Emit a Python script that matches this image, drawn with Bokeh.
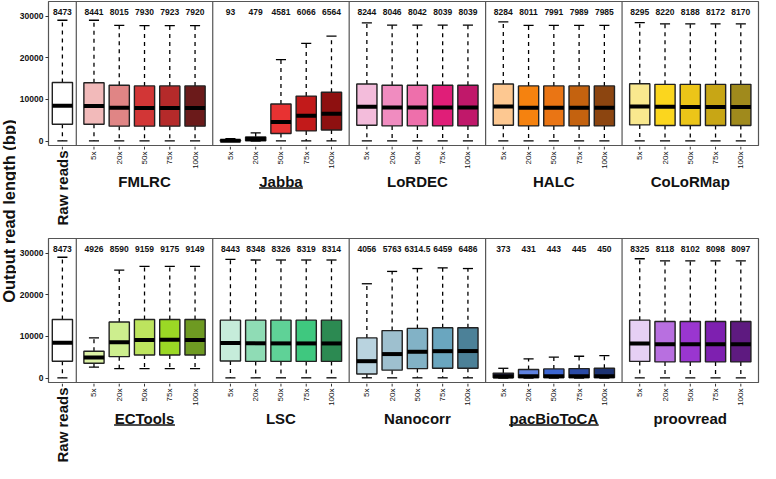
from math import pi
from bokeh.plotting import figure
from bokeh.models import ColumnDataSource, Range1d, FixedTicker, Span
from bokeh.layouts import row, column
from bokeh.embed import file_html
from bokeh.resources import INLINE
from bokeh.core.properties import value

# ---------------- data ----------------
COVERAGES = ["5x", "20x", "50x", "75x", "100x"]
RAW_LABEL = "Raw reads"
Y_LABEL = "Output read length (bp)"
Y_TICKS = [0, 10000, 20000, 30000]

# raw reads: low whisker, q1, median, q3, high whisker
RAW_STATS = [60, 4050, 8473, 14050, 29000]

TOP_TOOLS = ["FMLRC", "Jabba", "LoRDEC", "HALC", "CoLoRMap"]
BOTTOM_TOOLS = ["ECTools", "LSC", "Nanocorr", "pacBioToCA", "proovread"]
UNDERLINED = ["Jabba", "ECTools", "pacBioToCA"]

FMLRC_MED = [8441, 8015, 7930, 7923, 7920]
FMLRC_Q1 = [4040, 3580, 3580, 3580, 3580]
FMLRC_Q3 = [14000, 13400, 13240, 13240, 13240]
FMLRC_LO = [60, 60, 60, 60, 60]
FMLRC_HI = [29000, 27780, 27700, 27700, 27700]

JABBA_MED = [93, 479, 4581, 6066, 6564]
JABBA_Q1 = [20, 90, 1830, 2440, 2670]
JABBA_Q3 = [260, 1000, 8900, 10800, 11710]
JABBA_LO = [0, 0, 60, 60, 60]
JABBA_HI = [560, 1990, 19560, 23450, 25180]

LORDEC_MED = [8244, 8046, 8042, 8039, 8039]
LORDEC_Q1 = [3810, 3650, 3650, 3650, 3650]
LORDEC_Q3 = [13700, 13400, 13400, 13400, 13400]
LORDEC_LO = [60, 60, 60, 60, 60]
LORDEC_HI = [28380, 27850, 27850, 27850, 27850]

HALC_MED = [8284, 8011, 7991, 7989, 7985]
HALC_Q1 = [3810, 3650, 3650, 3650, 3650]
HALC_Q3 = [13700, 13240, 13240, 13240, 13240]
HALC_LO = [60, 60, 60, 60, 60]
HALC_HI = [28600, 27780, 27780, 27780, 27780]

COLORMAP_MED = [8295, 8220, 8188, 8172, 8170]
COLORMAP_Q1 = [3880, 3730, 3730, 3730, 3730]
COLORMAP_Q3 = [13770, 13620, 13620, 13620, 13620]
COLORMAP_LO = [60, 60, 60, 60, 60]
COLORMAP_HI = [28450, 28150, 28150, 28150, 28150]

ECTOOLS_MED = [4926, 8590, 9159, 9175, 9149]
ECTOOLS_Q1 = [3560, 5150, 5540, 5540, 5540]
ECTOOLS_Q3 = [6450, 13450, 14050, 14050, 14050]
ECTOOLS_LO = [2650, 2280, 2280, 2280, 2280]
ECTOOLS_HI = [9640, 25900, 26810, 26810, 26810]

LSC_MED = [8443, 8348, 8326, 8319, 8314]
LSC_Q1 = [4100, 4010, 4010, 4010, 4010]
LSC_Q3 = [13900, 13900, 13900, 13900, 13900]
LSC_LO = [60, 60, 60, 60, 60]
LSC_HI = [28500, 28340, 28340, 28340, 28340]

NANOCORR_MED = [4056, 5763, 6314.5, 6459, 6486]
NANOCORR_Q1 = [980, 1900, 2280, 2350, 2350]
NANOCORR_Q3 = [9640, 11400, 11920, 12080, 12080]
NANOCORR_LO = [70, 60, 60, 60, 60]
NANOCORR_HI = [22640, 25600, 26290, 26450, 26290]

PACBIO_MED = [373, 431, 443, 445, 450]
PACBIO_Q1 = [100, 100, 100, 100, 100]
PACBIO_Q3 = [1200, 2050, 2200, 2280, 2350]
PACBIO_LO = [0, 0, 0, 0, 0]
PACBIO_HI = [2350, 4630, 5010, 5240, 5390]

PROOVREAD_MED = [8325, 8118, 8102, 8098, 8097]
PROOVREAD_Q1 = [4010, 3880, 3880, 3880, 3880]
PROOVREAD_Q3 = [13900, 13590, 13590, 13590, 13590]
PROOVREAD_LO = [60, 60, 60, 60, 60]
PROOVREAD_HI = [28640, 28110, 28110, 28110, 28110]

RAW_COLOR = "#ffffff"
FMLRC_COLORS = ["#f2baba", "#e08585", "#d23636", "#b52a2a", "#6b1a1a"]
JABBA_COLORS = ["#2a0c0c", "#2a0c0c", "#e83232", "#c21a1a", "#8e1010"]
LORDEC_COLORS = ["#f3bcdb", "#f08cc0", "#ee6fab", "#e01e78", "#c0186a"]
HALC_COLORS = ["#fdc891", "#f5820f", "#ea7514", "#c4620f", "#8c4510"]
COLORMAP_COLORS = ["#f9e88e", "#fbd61e", "#ecc518", "#c8a615", "#a08a1c"]
ECTOOLS_COLORS = ["#dcf2a6", "#cdee8e", "#bde45e", "#9bd825", "#6e9a22"]
LSC_COLORS = ["#c6ecda", "#8fdcb5", "#5fd297", "#3fc87f", "#2c8a52"]
NANOCORR_COLORS = ["#b9d3df", "#9ec0cf", "#82b2c6", "#6aa6bf", "#4c8198"]
PACBIO_COLORS = ["#1a1a3a", "#5f82e0", "#3c66d2", "#2a4aa6", "#1c3272"]
PROOVREAD_COLORS = ["#e6d0f4", "#b86fe0", "#9a36d0", "#7e20b0", "#5e1a80"]

TOP_STATS = [
    (FMLRC_LO, FMLRC_Q1, FMLRC_MED, FMLRC_Q3, FMLRC_HI, FMLRC_COLORS),
    (JABBA_LO, JABBA_Q1, JABBA_MED, JABBA_Q3, JABBA_HI, JABBA_COLORS),
    (LORDEC_LO, LORDEC_Q1, LORDEC_MED, LORDEC_Q3, LORDEC_HI, LORDEC_COLORS),
    (HALC_LO, HALC_Q1, HALC_MED, HALC_Q3, HALC_HI, HALC_COLORS),
    (COLORMAP_LO, COLORMAP_Q1, COLORMAP_MED, COLORMAP_Q3, COLORMAP_HI, COLORMAP_COLORS),
]
BOTTOM_STATS = [
    (ECTOOLS_LO, ECTOOLS_Q1, ECTOOLS_MED, ECTOOLS_Q3, ECTOOLS_HI, ECTOOLS_COLORS),
    (LSC_LO, LSC_Q1, LSC_MED, LSC_Q3, LSC_HI, LSC_COLORS),
    (NANOCORR_LO, NANOCORR_Q1, NANOCORR_MED, NANOCORR_Q3, NANOCORR_HI, NANOCORR_COLORS),
    (PACBIO_LO, PACBIO_Q1, PACBIO_MED, PACBIO_Q3, PACBIO_HI, PACBIO_COLORS),
    (PROOVREAD_LO, PROOVREAD_Q1, PROOVREAD_MED, PROOVREAD_Q3, PROOVREAD_HI, PROOVREAD_COLORS),
]

# ---------------- layout constants ----------------
FONT = "Liberation Sans"
RAW_X = 11
PANEL0 = 22
PANEL_W = 108
BOX_OFF = 14
STEP = 20
BOX_W = 16
CAP_W = 8
X_MAX = PANEL0 + 5 * PANEL_W
Y_MIN, Y_MAX = -1300, 33500
FRAME_H = 145
Y_PER_PX = (Y_MAX - Y_MIN) / FRAME_H
LABEL_Y = Y_MAX - 10 * Y_PER_PX
FIG_W = 744
BORDER_L = 30
BORDER_R = 2
UNDERLINE_PX = {"Jabba": 44, "ECTools": 61, "pacBioToCA": 90}
X_PX = (FIG_W - BORDER_L - BORDER_R) / X_MAX


def fmt(v):
    return f"{v:g}"


def tick_positions(n_tools):
    return [PANEL0 + g * PANEL_W + BOX_OFF + c * STEP
            for g in range(n_tools) for c in range(len(COVERAGES))]


def build_source(stats):
    keys = ["x", "lo", "q1", "med", "q3", "hi", "color", "lab"]
    d = {k: [] for k in keys}
    lo, q1, med, q3, hi = RAW_STATS
    for k, v in zip(keys, [RAW_X, lo, q1, med, q3, hi, RAW_COLOR, fmt(med)]):
        d[k].append(v)
    for g, (LO, Q1, MED, Q3, HI, COLS) in enumerate(stats):
        for c in range(len(COVERAGES)):
            d["x"].append(PANEL0 + g * PANEL_W + BOX_OFF + c * STEP)
            d["lo"].append(LO[c]); d["q1"].append(Q1[c]); d["med"].append(MED[c])
            d["q3"].append(Q3[c]); d["hi"].append(HI[c]); d["color"].append(COLS[c])
            d["lab"].append(fmt(MED[c]))
    d["bl"] = [x - BOX_W / 2 for x in d["x"]]
    d["br"] = [x + BOX_W / 2 for x in d["x"]]
    d["cl"] = [x - CAP_W / 2 for x in d["x"]]
    d["cr"] = [x + CAP_W / 2 for x in d["x"]]
    return ColumnDataSource(d)


def make_main(tools, stats, xr):
    p = figure(width=FIG_W, height=FRAME_H + 1, x_range=xr,
               y_range=Range1d(Y_MIN, Y_MAX), toolbar_location=None,
               output_backend="svg", min_border_left=BORDER_L,
               min_border_right=BORDER_R, min_border_top=1,
               min_border_bottom=0, x_axis_location=None)
    p.grid.visible = False
    p.outline_line_color = "#555555"
    p.outline_line_width = 1.2

    src = build_source(stats)
    p.segment(x0="x", y0="q3", x1="x", y1="hi", source=src, line_color="black",
              line_width=1.3, line_dash="4 4")
    p.segment(x0="x", y0="q1", x1="x", y1="lo", source=src, line_color="black",
              line_width=1.3, line_dash="4 4")
    p.segment(x0="cl", y0="hi", x1="cr", y1="hi", source=src, line_color="black",
              line_width=1.3)
    p.segment(x0="cl", y0="lo", x1="cr", y1="lo", source=src, line_color="black",
              line_width=1.3)
    p.vbar(x="x", width=BOX_W, bottom="q1", top="q3", source=src,
           fill_color="color", line_color="#222222", line_width=1.4)
    p.segment(x0="bl", y0="med", x1="br", y1="med", source=src,
              line_color="black", line_width=4)
    p.text(x="x", y=LABEL_Y, text="lab", source=src, text_align="center",
           text_baseline="middle", text_font=value(FONT),
           text_font_style="bold", text_font_size="8.5px", text_color="#111111")

    for g in range(len(tools)):
        p.add_layout(Span(location=PANEL0 + g * PANEL_W, dimension="height",
                          line_color="#555555", line_width=1.2))

    ya = p.yaxis[0]
    ya.ticker = FixedTicker(ticks=Y_TICKS, minor_ticks=[])
    ya.major_label_text_font = FONT
    ya.major_label_text_font_style = "bold"
    ya.major_label_text_font_size = "8.5px"
    ya.major_label_text_color = "#111111"
    ya.major_label_standoff = 2
    ya.axis_line_color = None
    ya.major_tick_line_color = "#333333"
    ya.major_tick_out = 3
    ya.major_tick_in = 0
    return p


def make_strip(tools, xr, height):
    # strip under a panel row: y is measured in pixels below the frame
    s = figure(width=FIG_W, height=height, x_range=xr, y_range=Range1d(-height, 0),
               toolbar_location=None, output_backend="svg",
               min_border_left=BORDER_L, min_border_right=BORDER_R,
               min_border_top=0, min_border_bottom=0,
               x_axis_location=None, y_axis_location=None)
    s.grid.visible = False
    s.outline_line_color = None

    ticks = [RAW_X] + tick_positions(len(tools))
    s.segment(x0=ticks, y0=[0] * len(ticks), x1=ticks, y1=[-3] * len(ticks),
              line_color="#333333", line_width=1)
    cov_x = tick_positions(len(tools))
    cov_t = COVERAGES * len(tools)
    s.text(x=cov_x, y=[-5] * len(cov_x), text=cov_t, angle=pi / 2,
           text_align="right", text_baseline="middle", text_font=value(FONT),
           text_font_size="8px", text_color="#111111")
    s.text(x=[RAW_X], y=[-4], text=[RAW_LABEL], angle=pi / 2, text_align="right",
           text_baseline="middle", text_font=value(FONT), text_font_style="bold",
           text_font_size="15px", text_color="#111111")
    cx = [PANEL0 + g * PANEL_W + PANEL_W / 2 for g in range(len(tools))]
    s.text(x=cx, y=[-35] * len(cx), text=tools, text_align="center",
           text_baseline="middle", text_font=value(FONT), text_font_style="bold",
           text_font_size="15px", text_color="#111111")
    ux0, ux1 = [], []
    for g, name in enumerate(tools):
        if name in UNDERLINED:
            half = UNDERLINE_PX[name] / 2 / X_PX
            ux0.append(cx[g] - half)
            ux1.append(cx[g] + half)
    if ux0:
        s.segment(x0=ux0, y0=[-41.5] * len(ux0), x1=ux1, y1=[-41.5] * len(ux0),
                  line_color="#111111", line_width=1.6)
    return s


xr_top = Range1d(0, X_MAX)
xr_bot = Range1d(0, X_MAX)
top = make_main(TOP_TOOLS, TOP_STATS, xr_top)
top_strip = make_strip(TOP_TOOLS, xr_top, 91)
bottom = make_main(BOTTOM_TOOLS, BOTTOM_STATS, xr_bot)
bottom_strip = make_strip(BOTTOM_TOOLS, xr_bot, 80)

lab = figure(width=16, height=463, x_range=Range1d(0, 1), y_range=Range1d(0, 1),
             toolbar_location=None, output_backend="svg", min_border=0,
             x_axis_location=None, y_axis_location=None)
lab.grid.visible = False
lab.outline_line_color = None
lab.text(x=[0.5], y=[0.545], text=[Y_LABEL], angle=pi / 2, text_align="center",
         text_baseline="middle", text_font=value(FONT), text_font_style="bold",
         text_font_size="16.5px", text_color="#111111")

layout = row(lab, column(top, top_strip, bottom, bottom_strip))
open("out.html", "w").write(file_html(layout, INLINE))
